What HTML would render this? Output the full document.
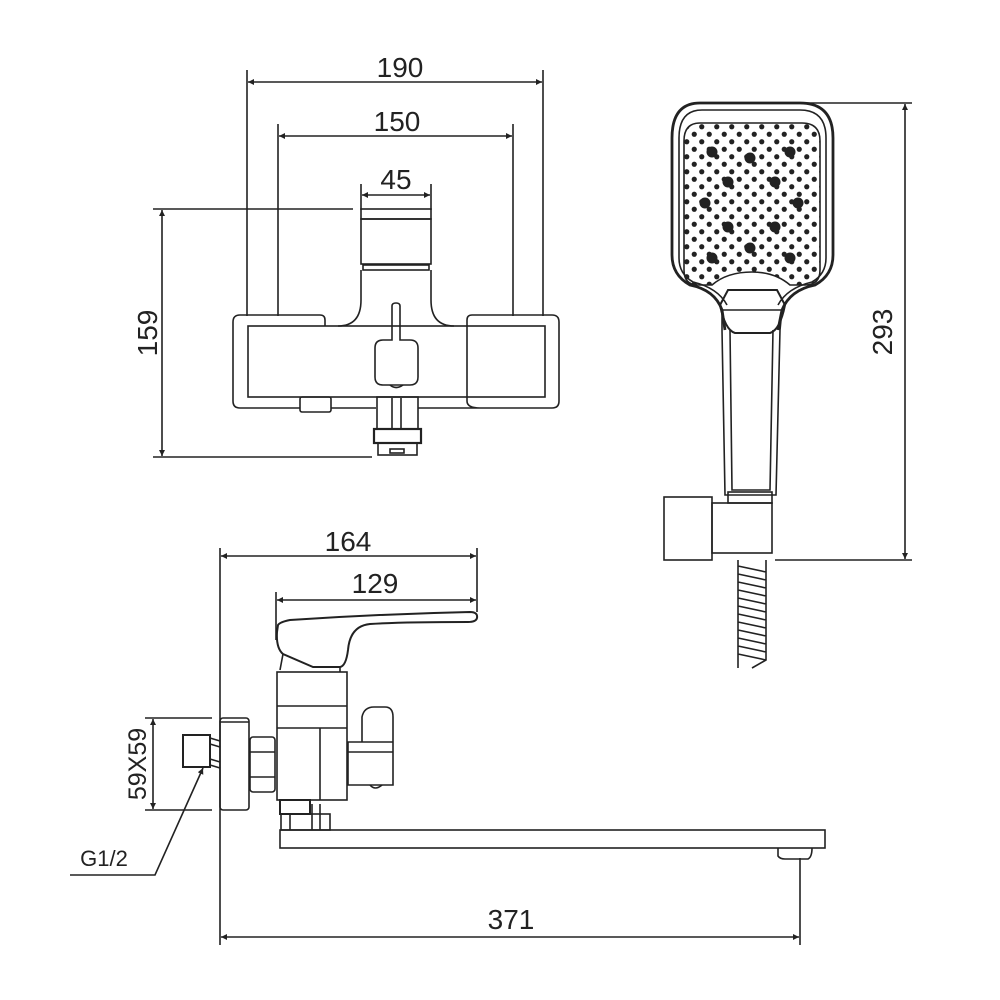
<!DOCTYPE html>
<html><head><meta charset="utf-8"><style>html,body{margin:0;padding:0;background:#fff}svg{display:block}</style></head>
<body>
<svg width="1000" height="1000" viewBox="0 0 1000 1000" xmlns="http://www.w3.org/2000/svg">
<defs>
<marker id="a" viewBox="0 0 10 10" refX="10" refY="5" markerWidth="11" markerHeight="6" orient="auto-start-reverse" markerUnits="userSpaceOnUse"><path d="M0,0L10,5L0,10z" fill="#222"/></marker>
<pattern id="dots" x="683" y="123" width="15" height="15" patternUnits="userSpaceOnUse"><circle cx="3.75" cy="3.75" r="2.6" fill="#222"/><circle cx="11.25" cy="11.25" r="2.6" fill="#222"/></pattern>
<clipPath id="face"><path d="M700,123 H802 Q820,123 820,141 V270 Q820,285 805,285 H790 Q775,272 752,272 Q727,272 712,285 H698 Q684,285 684,270 V141 Q684,123 700,123Z"/></clipPath>
</defs>
<g fill="none" stroke="#222" stroke-width="1.6">
<line x1="247" y1="70" x2="247" y2="316"/><line x1="543" y1="70" x2="543" y2="316"/>
<line x1="248" y1="82" x2="542" y2="82" marker-start="url(#a)" marker-end="url(#a)"/>
<line x1="278" y1="124" x2="278" y2="316"/><line x1="513" y1="124" x2="513" y2="316"/>
<line x1="279" y1="136" x2="512" y2="136" marker-start="url(#a)" marker-end="url(#a)"/>
<line x1="361" y1="184" x2="361" y2="210"/><line x1="431" y1="184" x2="431" y2="210"/>
<line x1="362" y1="195" x2="430" y2="195" marker-start="url(#a)" marker-end="url(#a)"/>
<line x1="153" y1="209" x2="353" y2="209"/><line x1="153" y1="457" x2="372" y2="457"/>
<line x1="162" y1="210" x2="162" y2="456" marker-start="url(#a)" marker-end="url(#a)"/>
<rect x="361" y="209" width="70" height="10"/><rect x="361" y="219" width="70" height="45"/><rect x="363" y="265" width="66" height="5"/>
<path d="M361,270 V300 Q361,326 338,326 M431,270 V300 Q431,326 454,326"/>
<path d="M325,326 V320 Q325,315 320,315 H240 Q233,315 233,322 V401 Q233,408 240,408 H300 M331,408 H376 M418,408 H480 Q467,408 467,401 V326 M467,326 V320 Q467,315 472,315 H552 Q559,315 559,322 V401 Q559,408 552,408 H480"/>
<rect x="248" y="326" width="297" height="71"/>
<path d="M392,340 V306 Q392,303 396,303 Q400,303 400,306 V340 H410 Q418,340 418,348 V377 Q418,385 410,385 H383 Q375,385 375,377 V348 Q375,340 383,340Z"/>
<path d="M390,385 Q396,390 403,385"/>
<rect x="300" y="397" width="31" height="15" rx="2"/>
<rect x="377" y="397" width="41" height="32"/><line x1="392" y1="398" x2="392" y2="429"/><line x1="401" y1="398" x2="401" y2="429"/>
<rect x="374" y="429" width="47" height="14" stroke-width="2.2"/><rect x="378" y="443" width="39" height="12"/><rect x="390" y="449" width="14" height="4"/>
<line x1="800" y1="103" x2="912" y2="103"/><line x1="775" y1="560" x2="912" y2="560"/>
<line x1="905" y1="104" x2="905" y2="559" marker-start="url(#a)" marker-end="url(#a)"/>
<path stroke-width="2.8" d="M700,103 H800 Q833,103 833,138 V255 Q833,275 815,285 Q790,290 782,310 L778,330 M700,103 Q672,103 672,138 V255 Q672,275 690,285 Q715,290 722,310 L725,330"/>
<path d="M702,110 H800 Q826,110 826,138 V258 Q826,274 812,282 Q787,288 778,305 M702,110 Q679,110 679,138 V258 Q679,274 693,282 Q718,288 727,305"/>
<path d="M700,123 H802 Q820,123 820,141 V270 Q820,285 805,285 H790 Q775,272 752,272 Q727,272 712,285 H698 Q684,285 684,270 V141 Q684,123 700,123Z"/>
<path d="M728,290 H777 L785,305 Q780,330 770,333 H735 Q725,330 720,305Z" stroke-width="2"/>
<path d="M722,310 H782"/>
<path d="M722,310 L722,330 L725,495 H776 L780,330 L782,310 M730,330 L732,490 H770 L773,330"/>
<rect x="664" y="497" width="48" height="63"/><rect x="712" y="503" width="60" height="50"/><rect x="728" y="492" width="44" height="11"/>
<path d="M738,560 V668 M766,560 V660 L752,668 M738,566 L766,572 M738,574 L766,580 M738,582 L766,588 M738,590 L766,596 M738,598 L766,604 M738,606 L766,612 M738,614 L766,620 M738,622 L766,628 M738,630 L766,636 M738,638 L766,644 M738,646 L766,652 M738,654 L766,660"/>
<line x1="220" y1="548" x2="220" y2="945"/>
<line x1="477" y1="548" x2="477" y2="612"/>
<line x1="221" y1="556" x2="476" y2="556" marker-start="url(#a)" marker-end="url(#a)"/>
<line x1="276" y1="592" x2="276" y2="640"/>
<line x1="277" y1="600" x2="476" y2="600" marker-start="url(#a)" marker-end="url(#a)"/>
<line x1="145" y1="718" x2="212" y2="718"/><line x1="145" y1="810" x2="212" y2="810"/>
<line x1="153" y1="719" x2="153" y2="809" marker-start="url(#a)" marker-end="url(#a)"/>
<line x1="800" y1="858" x2="800" y2="945"/>
<line x1="221" y1="937" x2="799" y2="937" marker-start="url(#a)" marker-end="url(#a)"/>
<path d="M70,875 H155 L203,768" marker-end="url(#a)"/>
<path stroke-width="2" d="M278,625 Q280,622 290,620 Q380,614 470,612 Q478,612 477,618 Q476,622 468,622 Q400,622 370,624 Q350,626 348,650 Q346,666 340,667 H313 L283,654 Q276,648 277,632Z"/>
<path d="M283,654 L280,670 M340,667 V672"/>
<rect x="277" y="672" width="70" height="128"/><line x1="277" y1="706" x2="347" y2="706"/><line x1="277" y1="728" x2="347" y2="728"/><line x1="320" y1="728" x2="320" y2="800"/>
<path d="M362,742 V717 Q364,707 374,707 H385 Q393,707 393,717 V785 H348 V742 H393 M348,752 H393"/>
<path d="M370,785 Q375,791 382,785"/>
<rect x="250" y="737" width="25" height="55" rx="3"/><line x1="250" y1="752" x2="275" y2="752"/><line x1="250" y1="777" x2="275" y2="777"/>
<rect x="220" y="718" width="29" height="92" rx="3"/><line x1="220" y1="722" x2="249" y2="722"/>
<rect x="183" y="735" width="27" height="32" stroke-width="2"/>
<path d="M210,738 L220,741 M210,744 L220,747 M210,759 L220,762 M210,765 L220,768"/>
<rect x="280" y="800" width="30" height="14" stroke-width="2"/><rect x="281" y="814" width="49" height="16"/><line x1="290" y1="814" x2="290" y2="830"/><line x1="312" y1="804" x2="312" y2="830"/><line x1="320" y1="804" x2="320" y2="830"/>
<rect x="280" y="830" width="545" height="18"/>
<path d="M778,848 V856 Q780,859 785,859 H808 Q812,857 812,848"/>
</g>
<rect x="683" y="123" width="140" height="165" fill="url(#dots)" clip-path="url(#face)"/>
<g fill="#222">
<circle cx="712" cy="152" r="5.5"/><circle cx="750" cy="158" r="5.5"/><circle cx="790" cy="152" r="5.5"/>
<circle cx="728" cy="182" r="5.5"/><circle cx="775" cy="182" r="5.5"/><circle cx="705" cy="203" r="5.5"/><circle cx="798" cy="203" r="5.5"/>
<circle cx="728" cy="227" r="5.5"/><circle cx="775" cy="227" r="5.5"/><circle cx="750" cy="248" r="5.5"/><circle cx="712" cy="258" r="5.5"/><circle cx="790" cy="258" r="5.5"/>
</g>
<g font-family="Liberation Sans, Arial, sans-serif" font-size="28" fill="#222" text-anchor="middle">
<text x="400" y="77">190</text>
<text x="397" y="131">150</text>
<text x="396" y="189">45</text>
<text x="348" y="551">164</text>
<text x="375" y="593">129</text>
<text x="511" y="929">371</text>
<text transform="translate(157,333) rotate(-90)">159</text>
<text transform="translate(892,332) rotate(-90)">293</text>
<text transform="translate(146,764) rotate(-90)" font-size="25">59X59</text>
<text x="104" y="866" font-size="22">G1/2</text>
</g>
</svg>
</body></html>
